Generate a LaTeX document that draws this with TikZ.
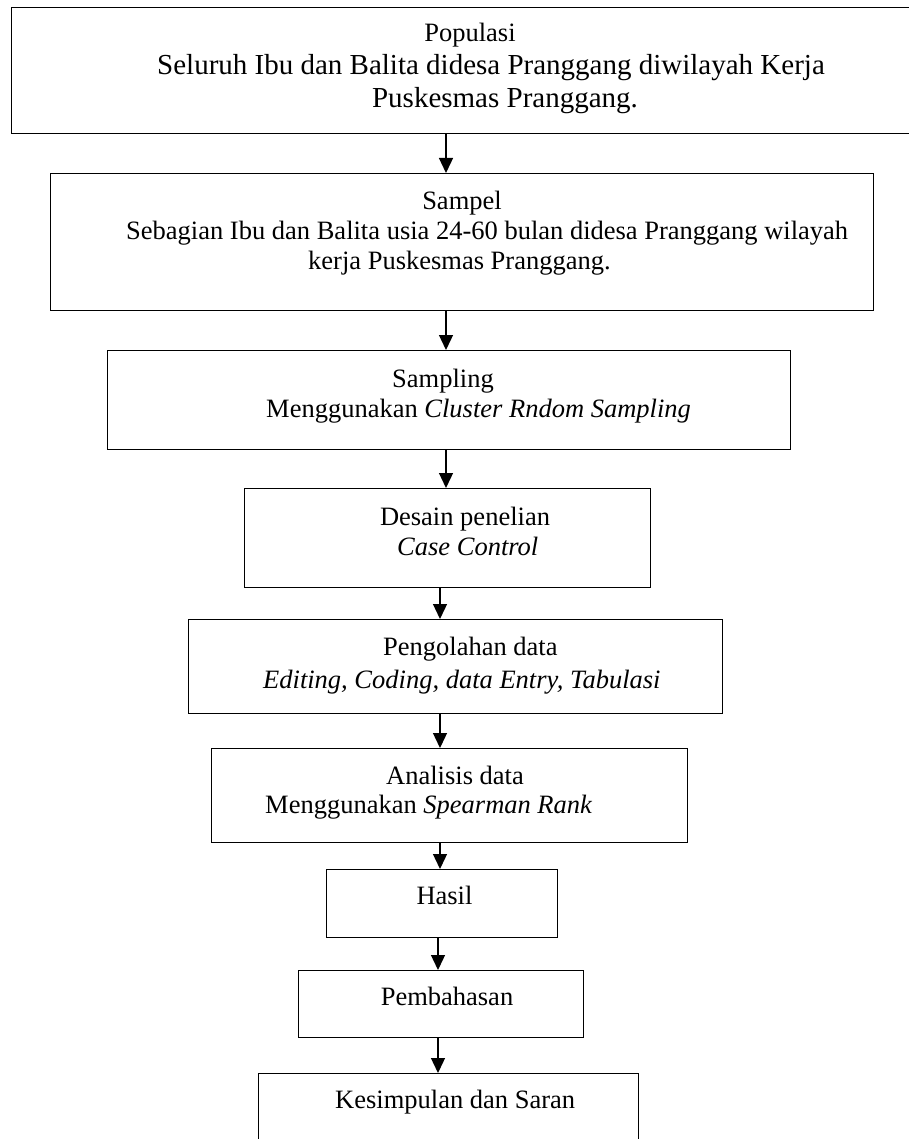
\documentclass[tikz,border=0pt]{standalone}
\usepackage{fontspec}
\setmainfont{Liberation Serif}
\usetikzlibrary{arrows.meta}
\begin{document}
\begin{tikzpicture}[x=1pt,y=-1pt,
  boxframe/.style={draw=black,line width=1.3pt,fill=none},
  txt/.style={inner sep=0pt,font=\fontsize{26.5}{30}\selectfont},
  bigtxt/.style={inner sep=0pt,font=\fontsize{29}{33}\selectfont},
  flow/.style={line width=1.3pt,-{Triangle[length=15pt,width=14pt]}}]
\useasboundingbox (0,0) rectangle (909,1139);
\clip (0,0) rectangle (909,1139);
% boxes
\node[boxframe,anchor=north west,minimum width=909pt,minimum height=126pt,inner sep=0pt] (b1) at (11,7) {};
\node[boxframe,anchor=north west,minimum width=823pt,minimum height=137pt,inner sep=0pt] (b2) at (50,173) {};
\node[boxframe,anchor=north west,minimum width=683pt,minimum height=99pt,inner sep=0pt] (b3) at (107,350) {};
\node[boxframe,anchor=north west,minimum width=406pt,minimum height=99pt,inner sep=0pt] (b4) at (244,488) {};
\node[boxframe,anchor=north west,minimum width=534pt,minimum height=94pt,inner sep=0pt] (b5) at (188,619) {};
\node[boxframe,anchor=north west,minimum width=476pt,minimum height=94pt,inner sep=0pt] (b6) at (211,748) {};
\node[boxframe,anchor=north west,minimum width=231pt,minimum height=68pt,inner sep=0pt] (b7) at (326,869) {};
\node[boxframe,anchor=north west,minimum width=285pt,minimum height=67pt,inner sep=0pt] (b8) at (298,970) {};
\node[boxframe,anchor=north west,minimum width=380pt,minimum height=90pt,inner sep=0pt] (b9) at (258,1073) {};
% texts
\node[txt,anchor=base] (t1a) at (470,42) {Populasi};
\node[bigtxt,anchor=base west] (t1b) at (157,75) {Seluruh Ibu dan Balita didesa Pranggang diwilayah Kerja};
\node[bigtxt,anchor=base] (t1c) at (505,108) {Puskesmas Pranggang.};
\node[txt,anchor=base] (t2a) at (462,210) {Sampel};
\node[txt,anchor=base west] (t2b) at (126,240) {Sebagian Ibu dan Balita usia 24-60 bulan didesa Pranggang wilayah};
\node[txt,anchor=base west] (t2c) at (308,270) {kerja Puskesmas Pranggang.};
\node[txt,anchor=base] (t3a) at (443,387) {Sampling};
\node[txt,anchor=base west] (t3b) at (266,417) {Menggunakan \textit{Cluster Rndom Sampling}};
\node[txt,anchor=base] (t4a) at (465,525) {Desain penelian};
\node[txt,anchor=base west] (t4b) at (397,555) {\textit{Case Control}};
\node[txt,anchor=base west] (t5a) at (383,655) {Pengolahan data};
\node[txt,anchor=base west] (t5b) at (263,688) {\textit{Editing, Coding, data Entry, Tabulasi}};
\node[txt,anchor=base] (t6a) at (455,784) {Analisis data};
\node[txt,anchor=base west] (t6b) at (265,813) {Menggunakan \textit{Spearman Rank}};
\node[txt,anchor=base] (t7) at (444.5,904) {Hasil};
\node[txt,anchor=base] (t8) at (447,1005) {Pembahasan};
\node[txt,anchor=base west] (t9) at (335,1108) {Kesimpulan dan Saran};
% arrow columns
\coordinate (c1) at (446,0);
\coordinate (c2) at (446,0);
\coordinate (c3) at (446,0);
\coordinate (c4) at (440,0);
\coordinate (c5) at (440,0);
\coordinate (c6) at (440,0);
\coordinate (c7) at (438,0);
\coordinate (c8) at (438,0);
\draw[flow] (b1.south -| c1) -- (b2.north -| c1);
\draw[flow] (b2.south -| c2) -- (b3.north -| c2);
\draw[flow] (b3.south -| c3) -- (b4.north -| c3);
\draw[flow] (b4.south -| c4) -- (b5.north -| c4);
\draw[flow] (b5.south -| c5) -- (b6.north -| c5);
\draw[flow] (b6.south -| c6) -- (b7.north -| c6);
\draw[flow] (b7.south -| c7) -- (b8.north -| c7);
\draw[flow] (b8.south -| c8) -- (b9.north -| c8);
\end{tikzpicture}
\end{document}
